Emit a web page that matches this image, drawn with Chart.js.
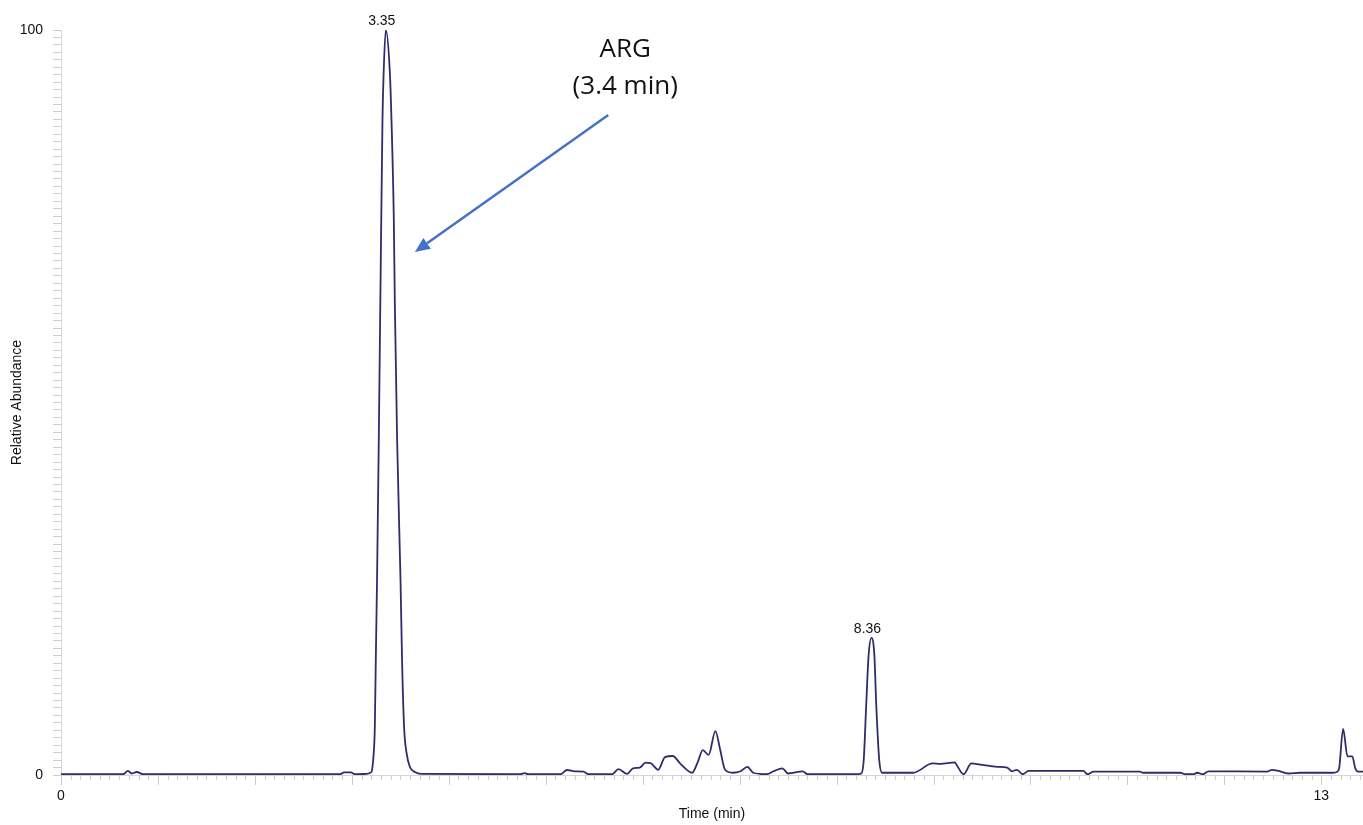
<!DOCTYPE html>
<html>
<head>
<meta charset="utf-8">
<title>Chromatogram</title>
<script src="https://cdn.jsdelivr.net/npm/chart.js@4.4.1/dist/chart.umd.min.js"></script>
<style>
  html, body { margin: 0; padding: 0; background: #ffffff; }
  #wrap { width: 1363px; height: 825px; position: relative; }
  canvas { display: block; }
</style>
</head>
<body>
<div id="wrap"><canvas id="chart" width="1363" height="825"></canvas></div>
<script>
// Retention time (min) and relative abundance (%) of the trace
const times = [
  0, 0.64, 0.69, 0.73, 0.78, 0.85,
  2.88, 2.92, 2.99, 3.03,
  3.15, 3.202, 3.213, 3.226, 3.237, 3.247, 3.260, 3.278, 3.296, 3.316, 3.329,
  3.35,
  3.391, 3.409, 3.433, 3.443, 3.467, 3.502, 3.518, 3.539, 3.564, 3.598, 3.649, 3.72,
  4.74, 4.78, 4.82,
  5.15, 5.22, 5.30, 5.39, 5.44,
  5.685, 5.75, 5.84, 5.90, 5.97, 6.03, 6.08, 6.16, 6.23, 6.31, 6.39,
  6.51, 6.57, 6.62, 6.68, 6.75, 6.80, 6.85, 6.93, 7.01, 7.08, 7.14,
  7.28, 7.35, 7.44, 7.50, 7.65, 7.70,
  8.20, 8.255, 8.28, 8.305, 8.33, 8.36, 8.39, 8.41, 8.44, 8.47,
  8.79, 8.99, 9.07, 9.22, 9.245, 9.31, 9.39, 9.48, 9.66, 9.76, 9.81, 9.86, 9.92, 9.98,
  10.545, 10.59, 10.65, 11.13, 11.16, 11.545, 11.60, 11.68, 11.72, 11.78, 11.835,
  12.44, 12.49, 12.56, 12.66, 12.78, 13.12, 13.165, 13.185, 13.225, 13.27, 13.32,
  13.35, 13.38, 13.43
];
const abundance = [
  0.1, 0.1, 0.55, 0.2, 0.4, 0.1,
  0.1, 0.35, 0.35, 0.1,
  0.15, 0.4, 1.1, 3.0, 6.4, 15.4, 26.2, 45.0, 66.0, 88.0, 94.6,
  100,
  94.6, 87.9, 74.5, 63.8, 45.0, 26.2, 15.4, 6.4, 3.0, 1.1, 0.4, 0.15,
  0.1, 0.25, 0.1,
  0.1, 0.67, 0.5, 0.45, 0.1,
  0.1, 0.8, 0.15, 0.9, 1.0, 1.65, 1.6, 0.7, 2.4, 2.55, 1.5,
  0.3, 1.8, 3.35, 2.7, 5.9, 3.35, 0.7, 0.3, 0.5, 1.1, 0.3,
  0.1, 0.5, 0.9, 0.2, 0.5, 0.1,
  0.1, 0.2, 2.0, 9.2, 16.0, 18.4, 16.0, 9.2, 2.0, 0.3,
  0.3, 1.55, 1.5, 1.7, 1.2, 0.1, 1.55, 1.4, 1.1, 1.0, 0.5, 0.7, 0.1, 0.55,
  0.55, 0.1, 0.45, 0.45, 0.3, 0.3, 0.1, 0.1, 0.3, 0.1, 0.5,
  0.45, 0.7, 0.55, 0.2, 0.3, 0.3, 0.45, 1.0, 6.2, 2.5, 2.5,
  0.9, 0.45, 0.45
];

// Peaks whose apex retention time is printed above them
const peakLabelTimes = [3.35, 8.36];

// Axis labels
const xTickLabels = [0, 13];
const yTickLabels = [0, 100];

// Callout for the arginine peak
const calloutLines = ['ARG', '(3.4 min)'];
const calloutText = { x: 5.82, y: 97.4 };
const calloutArrowFrom = { x: 5.645, y: 88.6 };
const calloutArrowTo = { x: 3.65, y: 70.2 };

const LINE_COLOR = '#2f2c6c';
const TICK_COLOR = '#cdcdcd';
const AXIS_FONT = "'Liberation Sans', Arial, sans-serif";

// Minor/major tick marks along the time axis
const timeTickPlugin = {
  id: 'timeTicks',
  afterDraw(chart) {
    const x = chart.scales.x;
    const ctx = chart.ctx;
    const y0 = chart.chartArea.bottom;
    ctx.save();
    ctx.strokeStyle = TICK_COLOR;
    ctx.lineWidth = 1;
    const steps = Math.floor(x.max * 10 + 1e-6);
    for (let i = 0; i <= steps; i++) {
      const v = i / 10;
      const isMajor = i % 10 === 0;
      if (isMajor && xTickLabels.includes(v)) continue;
      const px = Math.round(x.getPixelForValue(v)) + 0.5;
      ctx.beginPath();
      ctx.moveTo(px, y0);
      ctx.lineTo(px, y0 + (isMajor ? 10 : 5));
      ctx.stroke();
    }
    ctx.restore();
  }
};

// Retention-time labels at peak apexes
const peakLabelPlugin = {
  id: 'peakLabels',
  afterDatasetsDraw(chart) {
    const { ctx, scales: { x, y } } = chart;
    ctx.save();
    ctx.font = "14px " + AXIS_FONT;
    ctx.fillStyle = '#111111';
    ctx.textAlign = 'center';
    ctx.textBaseline = 'alphabetic';
    peakLabelTimes.forEach(t => {
      const i = times.indexOf(t);
      if (i < 0) return;
      const px = x.getPixelForValue(t);
      const py = y.getPixelForValue(abundance[i]);
      ctx.fillText(t.toFixed(2), px - 4, py - 5);
    });
    ctx.restore();
  }
};

// Text callout with an arrow pointing at the peak
const calloutPlugin = {
  id: 'callout',
  afterDatasetsDraw(chart) {
    const { ctx, scales: { x, y } } = chart;
    ctx.save();
    ctx.font = "26px 'Open Sans', 'DejaVu Sans', sans-serif";
    ctx.fillStyle = '#111111';
    ctx.textAlign = 'center';
    ctx.textBaseline = 'middle';
    const tx = x.getPixelForValue(calloutText.x);
    const ty = y.getPixelForValue(calloutText.y);
    calloutLines.forEach((line, k) => ctx.fillText(line, tx, ty + k * 37));

    const x1 = x.getPixelForValue(calloutArrowFrom.x);
    const y1 = y.getPixelForValue(calloutArrowFrom.y);
    const x2 = x.getPixelForValue(calloutArrowTo.x);
    const y2 = y.getPixelForValue(calloutArrowTo.y);
    const ang = Math.atan2(y2 - y1, x2 - x1);
    const headLen = 15, headHalf = 6.5;
    const bx = x2 - headLen * Math.cos(ang);
    const by = y2 - headLen * Math.sin(ang);
    ctx.strokeStyle = '#4472c4';
    ctx.fillStyle = '#4472c4';
    ctx.lineWidth = 2.5;
    ctx.beginPath();
    ctx.moveTo(x1, y1);
    ctx.lineTo(bx, by);
    ctx.stroke();
    ctx.beginPath();
    ctx.moveTo(x2, y2);
    ctx.lineTo(bx + headHalf * Math.sin(ang), by - headHalf * Math.cos(ang));
    ctx.lineTo(bx - headHalf * Math.sin(ang), by + headHalf * Math.cos(ang));
    ctx.closePath();
    ctx.fill();
    ctx.restore();
  }
};

const points = times.map((t, i) => ({ x: t, y: abundance[i] }));

new Chart(document.getElementById('chart'), {
  type: 'line',
  data: {
    datasets: [{
      data: points,
      borderColor: LINE_COLOR,
      borderWidth: 1.8,
      pointRadius: 0,
      fill: false,
      cubicInterpolationMode: 'monotone'
    }]
  },
  options: {
    responsive: false,
    animation: false,
    devicePixelRatio: 1,
    layout: { padding: { top: 30, left: 0, right: 0, bottom: 0 } },
    plugins: {
      legend: { display: false },
      tooltip: { enabled: false }
    },
    scales: {
      x: {
        type: 'linear',
        min: 0,
        max: 13.43,
        afterBuildTicks: s => { s.ticks = xTickLabels.map(v => ({ value: v })); },
        afterFit: s => { s.height = 50; },
        ticks: {
          font: { family: AXIS_FONT, size: 14 },
          color: '#111111',
          padding: 3,
          maxRotation: 0,
          autoSkip: false,
          callback: v => String(v)
        },
        grid: { drawOnChartArea: false, drawTicks: true, tickLength: 10, color: TICK_COLOR },
        border: { display: true, color: '#d6d6d6' },
        title: {
          display: true,
          text: 'Time (min)',
          font: { family: AXIS_FONT, size: 14 },
          color: '#111111',
          padding: { top: 0, bottom: 2 }
        }
      },
      y: {
        type: 'linear',
        min: 0,
        max: 100,
        afterFit: s => { s.width = 61; },
        ticks: {
          stepSize: 1,
          autoSkip: false,
          font: { family: AXIS_FONT, size: 14 },
          color: '#111111',
          padding: 10,
          callback: v => (yTickLabels.includes(v) ? String(v) : '')
        },
        grid: { drawOnChartArea: false, drawTicks: true, tickLength: 8, color: TICK_COLOR },
        border: { display: true, color: '#d6d6d6' },
        title: {
          display: true,
          text: 'Relative Abundance',
          font: { family: AXIS_FONT, size: 14 },
          color: '#111111',
          padding: { top: 9, bottom: 0 }
        }
      }
    }
  },
  plugins: [timeTickPlugin, peakLabelPlugin, calloutPlugin]
});
</script>
</body>
</html>
